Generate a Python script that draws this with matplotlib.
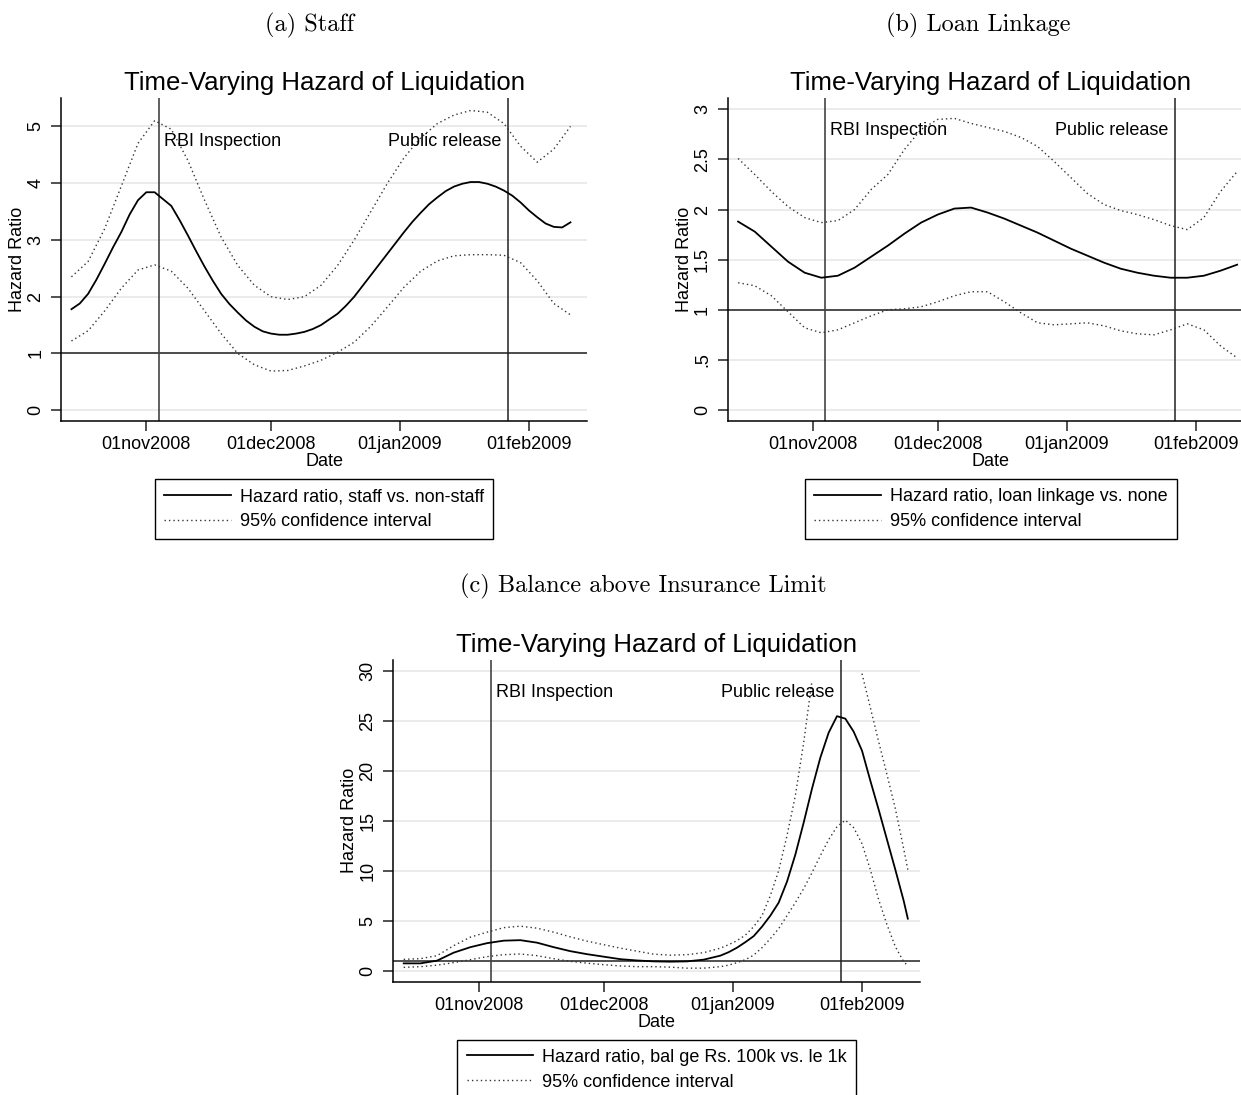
import numpy as np
import matplotlib
matplotlib.use("Agg")
import matplotlib.pyplot as plt

plt.rcParams['font.family'] = ['Liberation Sans', 'DejaVu Sans']

# Dager etter 01nov2008 (felles rutenett for kurvene i a og b)
dager = [-18, -14, -10, -6, -2, 2, 6, 10, 14, 18, 22, 26, 30, 34, 38, 42,
         46, 50, 54, 58, 62, 66, 70, 74, 78, 82, 86, 90, 94, 98, 102]

# (a) Staff - hovedkurven er lest av annenhver dag
a_dager_hr = [-18, -16, -14, -12, -10, -8, -6, -4, -2, 0, 2, 4, 6, 8, 10, 12, 14, 16, 18, 20,
              22, 24, 26, 28, 30, 32, 34, 36, 38, 40, 42, 44, 46, 48, 50, 52, 54, 56, 58, 60,
              62, 64, 66, 68, 70, 72, 74, 76, 78, 80, 82, 84, 86, 88, 90, 92, 94, 96, 98, 100, 102]
a_hr = [1.78, 1.88, 2.05, 2.3, 2.58, 2.87, 3.14, 3.45, 3.7, 3.84, 3.84, 3.72, 3.6, 3.35, 3.08, 2.8,
        2.53, 2.28, 2.05, 1.87, 1.72, 1.58, 1.47, 1.39, 1.35, 1.33, 1.33, 1.35, 1.38, 1.43, 1.5,
        1.6, 1.7, 1.84, 2.0, 2.19, 2.38, 2.57, 2.76, 2.95, 3.14, 3.32, 3.48, 3.63, 3.75, 3.86,
        3.94, 3.99, 4.02, 4.02, 3.99, 3.94, 3.87, 3.78, 3.66, 3.52, 3.4, 3.29, 3.23, 3.22, 3.31]
a_ovre = [2.35, 2.62, 3.2, 3.95, 4.7, 5.1, 4.95, 4.4, 3.7, 3.05, 2.55, 2.2, 2.0, 1.95, 2.0, 2.2,
          2.55, 3.0, 3.5, 4.0, 4.45, 4.8, 5.05, 5.2, 5.28, 5.25, 5.05, 4.65, 4.37, 4.6, 5.0]
a_nedre = [1.22, 1.4, 1.75, 2.15, 2.47, 2.56, 2.45, 2.15, 1.75, 1.35, 1.0, 0.8, 0.69, 0.7, 0.78, 0.88,
           1.02, 1.2, 1.48, 1.82, 2.17, 2.45, 2.63, 2.72, 2.74, 2.74, 2.73, 2.6, 2.28, 1.88, 1.68]

# (b) Loan Linkage
b_hr = [1.88, 1.78, 1.63, 1.48, 1.37, 1.32, 1.34, 1.42, 1.53, 1.64, 1.76, 1.87, 1.95, 2.01, 2.02, 1.97,
        1.91, 1.84, 1.77, 1.69, 1.61, 1.54, 1.47, 1.41, 1.37, 1.34, 1.32, 1.32, 1.34, 1.39, 1.45]
b_ovre = [2.51, 2.35, 2.18, 2.03, 1.92, 1.87, 1.89, 2.0, 2.2, 2.35, 2.6, 2.8, 2.9, 2.91, 2.86, 2.82,
          2.78, 2.72, 2.63, 2.48, 2.32, 2.16, 2.05, 1.99, 1.95, 1.9, 1.84, 1.8, 1.92, 2.18, 2.38]
b_nedre = [1.27, 1.24, 1.14, 0.98, 0.82, 0.77, 0.8, 0.87, 0.94, 1.0, 1.01, 1.03, 1.08, 1.14, 1.18, 1.18,
           1.08, 0.97, 0.87, 0.85, 0.86, 0.87, 0.84, 0.79, 0.76, 0.75, 0.8, 0.86, 0.8, 0.64, 0.52]

# (c) Balance above Insurance Limit - tettere punkter rundt toppen
c_dager = [-18, -14, -10, -6, -2, 2, 6, 10, 14, 18, 22, 26, 30, 34, 38, 42, 46, 50, 54, 58,
           60, 62, 64, 66, 68, 70, 72, 74, 76, 78, 80, 82, 84, 86, 88, 90, 92, 94, 96, 98, 100, 102, 103]
c_hr = [0.73, 0.73, 1.0, 1.8, 2.35, 2.75, 3.0, 3.05, 2.8, 2.35, 1.95, 1.65, 1.4, 1.15, 1.02, 0.93,
        0.9, 0.93, 1.1, 1.5,
        1.85, 2.3, 2.85, 3.45, 4.4, 5.5, 6.8, 8.9, 11.6, 14.8, 18.2, 21.3, 23.8, 25.45, 25.2, 23.9,
        22.0, 19.0, 16.1, 13.1, 10.1, 7.0, 5.2]
c_nedre = [0.33, 0.4, 0.55, 0.8, 1.1, 1.4, 1.6, 1.67, 1.5, 1.2, 0.93, 0.75, 0.6, 0.47, 0.4, 0.4,
           0.35, 0.25, 0.25, 0.4,
           0.55, 0.8, 1.1, 1.55, 2.3, 3.2, 4.2, 5.5, 6.8, 8.2, 9.8, 11.5, 13.1, 14.4, 15.05, 14.3,
           12.7, 10.1, 7.1, 4.6, 2.4, 0.9, 0.5]
# øvre grense går ut av skalaen rundt toppen
c_dager_ovre = [-18, -14, -10, -6, -2, 2, 6, 10, 14, 18, 22, 26, 30, 34, 38, 42, 46, 50, 54, 58,
                60, 62, 64, 66, 68, 70, 72, 74, 76, 78, 80, 86, 92, 94, 96, 98, 100, 102, 103]
c_ovre = [1.13, 1.2, 1.5, 2.5, 3.35, 3.85, 4.3, 4.45, 4.25, 3.85, 3.38, 2.95, 2.6, 2.25, 1.95, 1.65,
          1.55, 1.6, 1.8, 2.25,
          2.6, 3.0, 3.55, 4.4, 5.5, 7.5, 10.0, 13.5, 17.5, 22.8, 29.0, np.nan,
          29.7, 26.3, 22.9, 19.6, 16.2, 12.2, 10.1]

tick_datoer = ['2008-11-01', '2008-12-01', '2009-01-01', '2009-02-01']
tick_tekst = ['01nov2008', '01dec2008', '01jan2009', '01feb2009']
rbi_dag = 3
publisert_dag = 87

start = np.datetime64('2008-11-01T00:00')


def til_dato(d):
    minutter = np.round(np.asarray(d, dtype=float) * 24 * 60).astype('int64')
    return start + minutter.astype('timedelta64[m]')


def tegn_panel(fig, rect, x_hr, hr, x_ovre, ovre, x_nedre, nedre, yticks, ylabels, ylim,
               tekst_y, legend_tekst):
    ax = fig.add_axes(rect)
    for y in yticks:
        ax.axhline(y, color='#e8e8e8', lw=1.2, zorder=0)
    ax.axhline(1, color='#222222', lw=1.1, zorder=1)
    ax.axvline(til_dato(rbi_dag), color='#444444', lw=1.2, zorder=1)
    ax.axvline(til_dato(publisert_dag), color='#222222', lw=1.1, zorder=1)

    ax.plot(til_dato(x_hr), hr, color='black', lw=1.3, label=legend_tekst, zorder=3)
    ax.plot(til_dato(x_ovre), ovre, color='#333333', lw=1.0, ls=(0, (1, 2.2)),
            label='95% confidence interval', zorder=2)
    ax.plot(til_dato(x_nedre), nedre, color='#333333', lw=1.0, ls=(0, (1, 2.2)), zorder=2)

    ax.set_xlim(til_dato(-20.5), til_dato(106))
    ax.set_ylim(*ylim)
    ax.set_xticks(np.array(tick_datoer, dtype='datetime64[m]'))
    ax.set_xticklabels(tick_tekst, fontsize=13)
    ax.set_yticks(yticks)
    ax.set_yticklabels(ylabels, fontsize=13, rotation=90, va='center')
    ax.tick_params(axis='both', length=7, width=1.1, color='#222222', pad=5)
    ax.tick_params(axis='x', pad=4)
    for s in ['top', 'right']:
        ax.spines[s].set_visible(False)
    for s in ['left', 'bottom']:
        ax.spines[s].set_linewidth(1.1)
    ax.set_xlabel('Date', fontsize=13, labelpad=0)
    ax.set_ylabel('Hazard Ratio', fontsize=13, labelpad=1)
    ax.set_title('Time-Varying Hazard of Liquidation', fontsize=18.5, pad=6)

    ax.text(til_dato(rbi_dag + 1.2), tekst_y, 'RBI Inspection', fontsize=13, va='center', ha='left')
    ax.text(til_dato(publisert_dag - 1.6), tekst_y, 'Public release', fontsize=13, va='center', ha='right')

    leg = ax.legend(loc='upper center', bbox_to_anchor=(0.5, -0.18), borderaxespad=0,
                    fontsize=13, handlelength=3.7, handletextpad=0.5, labelspacing=0.45,
                    borderpad=0.5, fancybox=False, framealpha=1, edgecolor='black')
    leg.get_frame().set_linewidth(1.0)
    return ax


fig = plt.figure(figsize=(12.41, 10.95), dpi=100)

tegn_panel(fig, [0.0492, 0.6155, 0.4239, 0.2950], a_dager_hr, a_hr, dager, a_ovre, dager, a_nedre,
           [0, 1, 2, 3, 4, 5], ['0', '1', '2', '3', '4', '5'], (-0.19, 5.5), 4.73,
           'Hazard ratio, staff vs. non-staff')
tegn_panel(fig, [0.5864, 0.6155, 0.4239, 0.2947], dager, b_hr, dager, b_ovre, dager, b_nedre,
           [0, 0.5, 1, 1.5, 2, 2.5, 3], ['0', '.5', '1', '1.5', '2', '2.5', '3'], (-0.11, 3.11), 2.79,
           'Hazard ratio, loan linkage vs. none')
tegn_panel(fig, [0.3169, 0.1035, 0.4247, 0.2938], c_dager, c_hr, c_dager_ovre, c_ovre, c_dager, c_nedre,
           [0, 5, 10, 15, 20, 25, 30], ['0', '5', '10', '15', '20', '25', '30'], (-1.1, 31.07), 27.8,
           'Hazard ratio, bal ge Rs. 100k vs. le 1k')

# Figurtekster
fig.text(0.2498, 0.977, '(a) Staff', family='cmr10', fontsize=17.5, ha='center', va='center')
fig.text(0.788, 0.977, '(b) Loan Linkage', family='cmr10', fontsize=17.5, ha='center', va='center')
fig.text(0.5185, 0.4648, '(c) Balance above Insurance Limit', family='cmr10', fontsize=17.5,
         ha='center', va='center')

fig.savefig('out.png', dpi=100)
